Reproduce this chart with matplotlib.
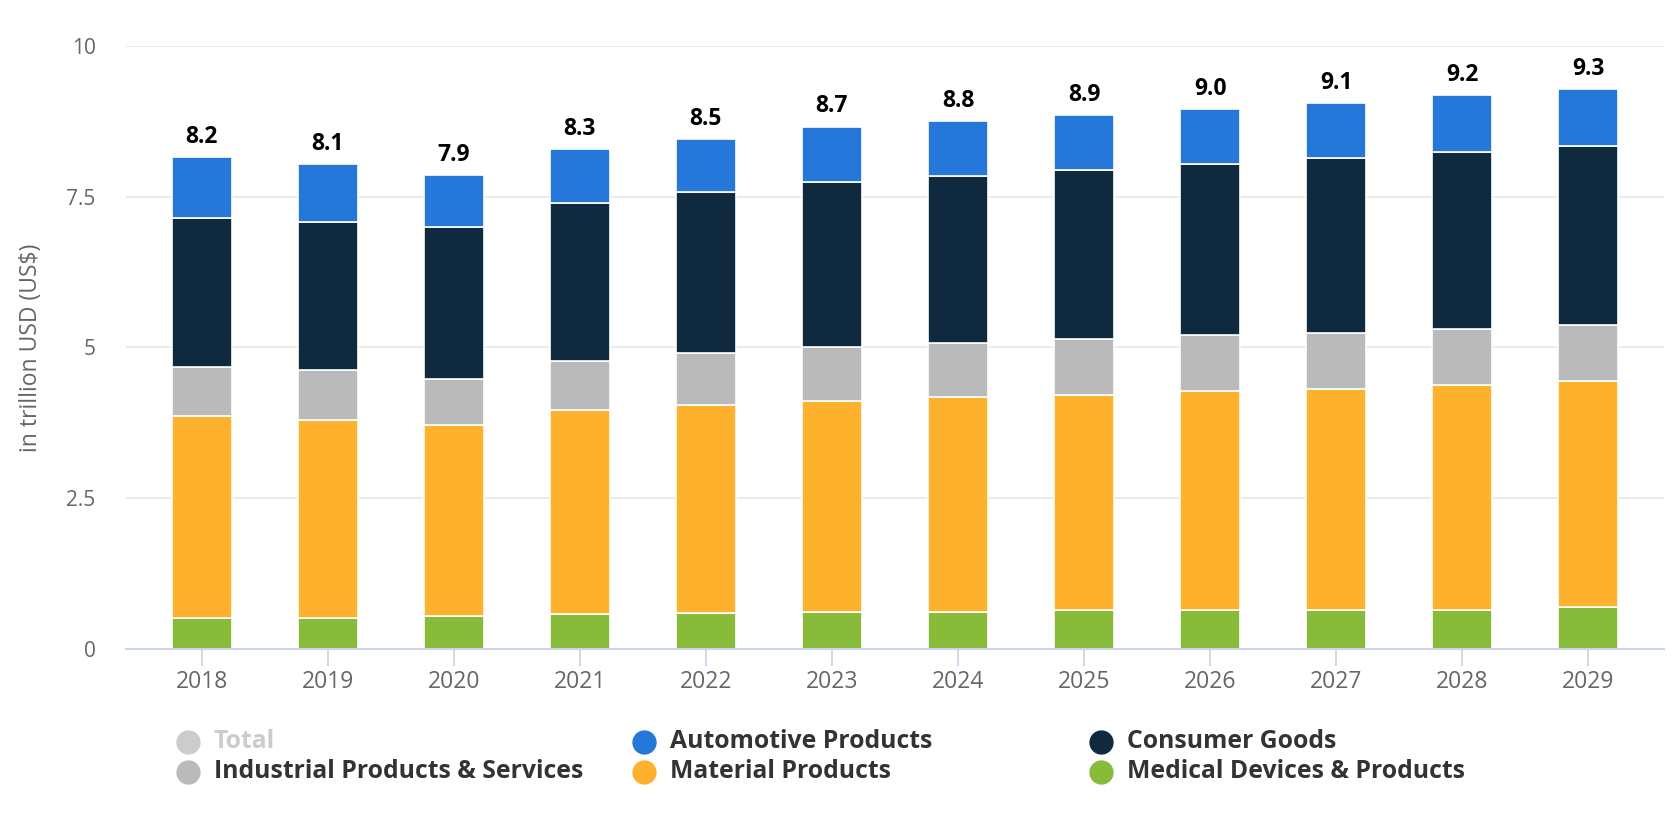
import numpy as np
import matplotlib
matplotlib.use('Agg')
import matplotlib.pyplot as plt
from matplotlib.lines import Line2D

plt.rcParams['font.family'] = ['Open Sans', 'DejaVu Sans']

# data (trillion USD)
years = ['2018', '2019', '2020', '2021', '2022', '2023',
         '2024', '2025', '2026', '2027', '2028', '2029']
medical = [0.52, 0.52, 0.55, 0.58, 0.59, 0.62, 0.62, 0.65, 0.65, 0.65, 0.65, 0.69]
material = [3.34, 3.27, 3.17, 3.38, 3.46, 3.50, 3.56, 3.57, 3.63, 3.66, 3.73, 3.76]
industrial = [0.82, 0.83, 0.76, 0.82, 0.86, 0.89, 0.90, 0.92, 0.93, 0.93, 0.93, 0.92]
consumer = [2.47, 2.46, 2.52, 2.61, 2.67, 2.73, 2.77, 2.80, 2.84, 2.91, 2.93, 2.97]
automotive = [1.01, 0.96, 0.86, 0.90, 0.88, 0.92, 0.90, 0.91, 0.90, 0.90, 0.94, 0.94]
totals = [8.2, 8.1, 7.9, 8.3, 8.5, 8.7, 8.8, 8.9, 9.0, 9.1, 9.2, 9.3]

series = [
    ('Medical Devices & Products', medical, '#88bb3a'),
    ('Material Products', material, '#feb12d'),
    ('Industrial Products & Services', industrial, '#bababa'),
    ('Consumer Goods', consumer, '#0f2a3f'),
    ('Automotive Products', automotive, '#2577d9'),
]

fig = plt.figure(figsize=(16.8, 8.14), dpi=100)
ax = fig.add_axes([0.075, 0.2027, 0.9155, 0.7408])

x = np.arange(len(years))
bottom = np.zeros(len(years))
for name, vals, col in series:
    ax.bar(x, vals, width=0.476, bottom=bottom, color=col,
           edgecolor='white', linewidth=1.2, zorder=3)
    bottom += np.array(vals)

# total labels on top of the stacks
for xi, top, t in zip(x, bottom, totals):
    ax.annotate(f'{t:.1f}', (xi, top), xytext=(0, 6), textcoords='offset points',
                ha='center', va='bottom', fontsize=16.5, fontweight='bold',
                color='black')

ax.set_xlim(-0.6, 11.6)
ax.set_ylim(0, 10)
ax.set_yticks([0, 2.5, 5, 7.5, 10])
ax.set_yticklabels(['0', '2.5', '5', '7.5', '10'])
ax.set_xticks(x)
ax.set_xticklabels(years)
ax.grid(axis='y', color='#e6e6e6', linewidth=1.2, zorder=0)
ax.set_axisbelow(True)

for s in ['top', 'right', 'left']:
    ax.spines[s].set_visible(False)
ax.spines['bottom'].set_color('#ccd6eb')
ax.spines['bottom'].set_linewidth(1.5)
ax.spines['bottom'].set_zorder(4)

ax.tick_params(axis='x', length=12, width=1.3, color='#ccd6eb', pad=3,
               labelsize=16.5, labelcolor='#666666')
ax.tick_params(axis='y', length=0, pad=22, labelsize=15, labelcolor='#666666')
ax.set_ylabel('in trillion USD (US$)', fontsize=16.5, color='#666666')
ax.yaxis.set_label_coords(-0.054, 0.5)

# legend drawn by hand, three columns, two rows
legend_items = [
    ('Total', '#cccccc', '#cccccc', 188, 742),
    ('Automotive Products', '#2577d9', '#333333', 644, 742),
    ('Consumer Goods', '#0f2a3f', '#333333', 1101, 742),
    ('Industrial Products & Services', '#bababa', '#333333', 188, 772),
    ('Material Products', '#feb12d', '#333333', 644, 772),
    ('Medical Devices & Products', '#88bb3a', '#333333', 1101, 772),
]
W, H = 1680, 814
for label, mcol, tcol, px, py in legend_items:
    fig.add_artist(Line2D([px / W], [1 - py / H], marker='o', markersize=16.5,
                          color=mcol, linestyle='none', transform=fig.transFigure))
    fig.text((px + 26) / W, 1 - py / H, label, fontsize=17.8, fontweight='bold',
             color=tcol, ha='left', va='center')

fig.savefig('out.png', dpi=100)
